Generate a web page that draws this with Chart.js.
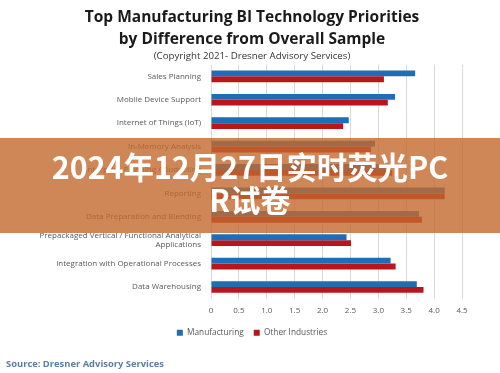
<!DOCTYPE html>
<html>
<head>
<meta charset="utf-8">
<script src="https://cdn.jsdelivr.net/npm/chart.js@4"></script>
<style>
  html, body { margin: 0; padding: 0; background: #fff; }
  #wrap { position: relative; width: 500px; height: 373px; overflow: hidden; }
  #chart { position: absolute; left: 0; top: 0; }
  #source {
    position: absolute; left: 6px; top: 357px;
    font: bold 9.4px "Open Sans", sans-serif; color: #5b7ea3;
  }
  #banner {
    position: absolute; left: 0; top: 138px; width: 500px; height: 95px;
    background: rgba(195, 105, 45, 0.8);
  }
  #banner div {
    position: absolute; left: 0; top: 12px; width: 500px; text-align: center;
    font: bold 30.4px "Noto Sans CJK SC", sans-serif; color: #fff; line-height: 33px;
  }
</style>
</head>
<body>
<div id="wrap">
  <canvas id="chart" width="500" height="373"></canvas>
  <div id="source">Source: Dresner Advisory Services</div>
  <div id="banner"><div>2024年12月27日实时荧光PC<br>R试卷</div></div>
</div>
<script>
// 카테고리 (위에서 아래 순서)
const categories = [
  'Sales Planning',
  'Mobile Device Support',
  'Internet of Things (IoT)',
  'In-Memory Analysis',
  'Enterprise Planning / Budgeting',
  'Reporting',
  'Data Preparation and Blending',
  ['Prepackaged Vertical / Functional Analytical', 'Applications'],
  'Integration with Operational Processes',
  'Data Warehousing'
];
// 시리즈 값
const manufacturing = [3.66, 3.30, 2.47, 2.94, 3.20, 4.19, 3.73, 2.43, 3.22, 3.69];
const otherIndustries = [3.10, 3.17, 2.37, 2.87, 3.25, 4.19, 3.78, 2.51, 3.31, 3.81];
// x축 눈금
const xTicks = [0, 0.5, 1, 1.5, 2, 2.5, 3, 3.5, 4, 4.5];

const ctx = document.getElementById('chart').getContext('2d');
new Chart(ctx, {
  type: 'bar',
  data: {
    labels: categories,
    datasets: [{
      label: 'Manufacturing',
      data: manufacturing,
      backgroundColor: '#1f6db5'
    }, {
      label: 'Other Industries',
      data: otherIndustries,
      backgroundColor: '#b9151c'
    }]
  },
  options: {
    indexAxis: 'y',
    responsive: false,
    animation: false,
    layout: { padding: { left: 42, right: 38, bottom: 26 } },
    datasets: { bar: { categoryPercentage: 0.5, barPercentage: 1.0 } },
    plugins: {
      title: {
        display: true,
        text: ['Top Manufacturing BI Technology Priorities', 'by Difference from Overall Sample'],
        color: '#1a1a1a',
        font: { family: 'Open Sans', size: 15.5, weight: 'bold', lineHeight: 1.45 },
        padding: { top: 6, bottom: 0 }
      },
      subtitle: {
        display: true,
        text: '(Copyright 2021- Dresner Advisory Services)',
        color: '#333',
        font: { family: 'Open Sans', size: 9.7, lineHeight: 1.0 },
        padding: { top: 0, bottom: 4 }
      },
      legend: {
        position: 'bottom',
        labels: {
          boxWidth: 6, boxHeight: 6, padding: 10,
          color: '#595959',
          font: { family: 'Open Sans', size: 8.3 }
        }
      },
      tooltip: { enabled: false }
    },
    scales: {
      x: {
        min: 0, max: 4.5,
        afterBuildTicks: (scale) => { scale.ticks = xTicks.map(v => ({ value: v })); },
        afterFit: (scale) => { scale.height = 20; },
        grid: { color: '#d9d9d9', drawTicks: false },
        border: { display: false },
        ticks: { color: '#595959', padding: 7, font: { family: 'Open Sans', size: 8 } }
      },
      y: {
        afterFit: (scale) => {
          scale.width = 169;
          // 긴 라벨이 잘리지 않도록 라벨 클리핑 해제
          scale._computeLabelArea = () => undefined;
        },
        grid: { display: false },
        border: { display: false },
        ticks: { color: '#595959', padding: 2, font: { family: 'Open Sans', size: 8 } }
      }
    }
  }
});
</script>
</body>
</html>
